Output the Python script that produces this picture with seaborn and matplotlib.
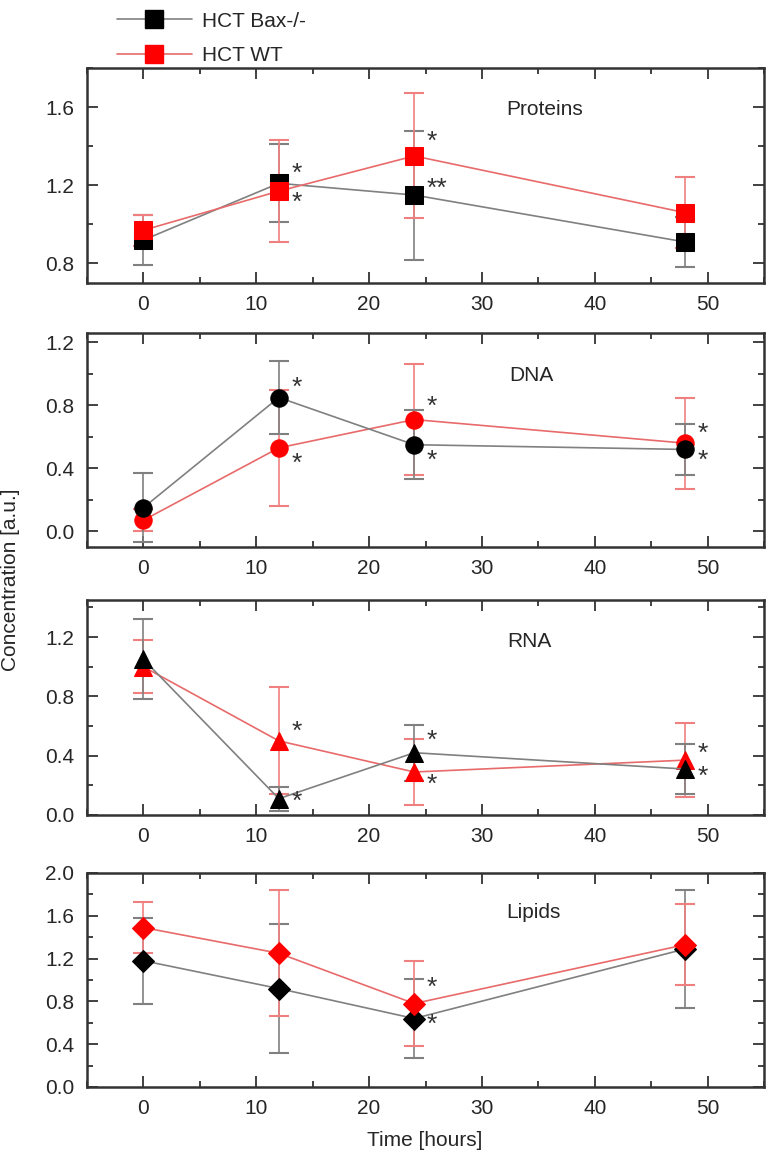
import matplotlib
matplotlib.use("Agg")
import matplotlib.pyplot as plt
from matplotlib.lines import Line2D
from matplotlib.ticker import MultipleLocator, FormatStrFormatter
import seaborn as sns

# time points (hours)
time = [0, 12, 24, 48]

# HCT Bax-/- (black) and HCT WT (red): means and error bars
proteins_ko = [0.92, 1.21, 1.15, 0.91]
proteins_ko_err = [0.13, 0.20, 0.33, 0.13]
proteins_wt = [0.97, 1.17, 1.35, 1.06]
proteins_wt_err = [0.08, 0.26, 0.32, 0.18]

dna_ko = [0.15, 0.85, 0.55, 0.52]
dna_ko_err = [0.22, 0.23, 0.22, 0.16]
dna_wt = [0.07, 0.53, 0.71, 0.56]
dna_wt_err = [0.07, 0.37, 0.35, 0.29]

rna_ko = [1.05, 0.11, 0.42, 0.31]
rna_ko_err = [0.27, 0.08, 0.19, 0.17]
rna_wt = [1.00, 0.50, 0.29, 0.37]
rna_wt_err = [0.18, 0.36, 0.22, 0.25]

lipids_ko = [1.18, 0.92, 0.64, 1.29]
lipids_ko_err = [0.40, 0.60, 0.37, 0.55]
lipids_wt = [1.49, 1.25, 0.78, 1.33]
lipids_wt_err = [0.24, 0.59, 0.40, 0.38]

# significance marks: (time, value, text)
proteins_stars = [(12, 1.26, "*"), (12, 1.11, "*"), (24, 1.42, "*"), (24, 1.18, "**")]
dna_stars = [(12, 0.91, "*"), (12, 0.43, "*"), (24, 0.79, "*"), (24, 0.45, "*"),
             (48, 0.62, "*"), (48, 0.45, "*")]
rna_stars = [(12, 0.56, "*"), (12, 0.09, "*"), (24, 0.50, "*"), (24, 0.20, "*"),
             (48, 0.41, "*"), (48, 0.26, "*")]
lipids_stars = [(24, 0.93, "*"), (24, 0.58, "*")]

panel_names = ["Proteins", "DNA", "RNA", "Lipids"]
series_labels = ["HCT Bax-/-", "HCT WT"]

sns.set_style("ticks")
plt.rcParams["font.family"] = ["Liberation Sans Narrow", "Liberation Sans", "DejaVu Sans"]

W, H = 766, 1160
fig = plt.figure(figsize=(W / 100, H / 100), dpi=100)

# frame pixel boxes (top, bottom)
boxes = [(68, 283), (333, 547), (600, 815), (873, 1087)]
left_px, right_px = 87, 764

panels = [
    (proteins_ko, proteins_ko_err, proteins_wt, proteins_wt_err, proteins_stars, "s", 12.5, (0.7, 1.8), (35.6, 1.59)),
    (dna_ko, dna_ko_err, dna_wt, dna_wt_err, dna_stars, "o", 12.5, (-0.1, 1.26), (34.4, 0.99)),
    (rna_ko, rna_ko_err, rna_wt, rna_wt_err, rna_stars, "^", 13, (0.0, 1.45), (34.2, 1.17)),
    (lipids_ko, lipids_ko_err, lipids_wt, lipids_wt_err, lipids_stars, "D", 11.5, (0.0, 2.0), (34.6, 1.63)),
]

ko_line, ko_mark, ko_err = "#808080", "black", "#808080"
wt_line, wt_mark, wt_err = "#e86a6a", "#ff0000", "#f08080"
ko_on_top = [False, True, True, False]

for i, (ko, ko_e, wt, wt_e, stars, mk, ms, ylim, lab_pos) in enumerate(panels):
    top, bot = boxes[i]
    ax = fig.add_axes([left_px / W, 1 - bot / H, (right_px - left_px) / W, (bot - top) / H])
    zk, zw = (4, 3) if ko_on_top[i] else (3, 4)

    ax.errorbar(time, ko, yerr=ko_e, fmt="none", ecolor=ko_err, elinewidth=1.2,
                capsize=7, capthick=1.5, zorder=zk - 1)
    ax.errorbar(time, wt, yerr=wt_e, fmt="none", ecolor=wt_err, elinewidth=1.2,
                capsize=7, capthick=1.5, zorder=zw - 1)
    sns.lineplot(x=time, y=ko, ax=ax, color=ko_line, linewidth=1.2, marker=mk,
                 markersize=ms, markerfacecolor=ko_mark, markeredgecolor=ko_mark, zorder=zk)
    sns.lineplot(x=time, y=wt, ax=ax, color=wt_line, linewidth=1.2, marker=mk,
                 markersize=ms, markerfacecolor=wt_mark, markeredgecolor=wt_mark, zorder=zw)

    for tx, ty, s in stars:
        ax.text(tx + 1.1, ty, s, fontsize=19, color="#333333", ha="left", va="center", zorder=6)

    ax.text(lab_pos[0], lab_pos[1], panel_names[i], fontsize=15, ha="center", va="center")

    ax.set_xlim(-5, 55)
    ax.set_ylim(*ylim)
    ax.xaxis.set_major_locator(MultipleLocator(10))
    ax.xaxis.set_minor_locator(MultipleLocator(5))
    ax.yaxis.set_major_locator(MultipleLocator(0.4))
    ax.yaxis.set_minor_locator(MultipleLocator(0.2))
    ax.tick_params(which="both", direction="in", top=True, right=True, width=1.3,
                   color="#333333", labelsize=15)
    ax.tick_params(which="major", length=8, pad=9)
    ax.tick_params(which="minor", length=4)
    ax.yaxis.set_major_formatter(FormatStrFormatter("%.1f"))
    for sp in ax.spines.values():
        sp.set_visible(True)
        sp.set_linewidth(1.8)
        sp.set_color("#333333")
    ax.set_xlabel("")
    ax.set_ylabel("")

fig.text(11 / W, 1 - 580 / H, "Concentration [a.u.]", rotation=90, ha="center",
         va="center", fontsize=15)
fig.text(425 / W, 1 - 1140 / H, "Time [hours]", ha="center", va="center", fontsize=15)

handles = [
    Line2D([], [], color=ko_line, linewidth=1.2, marker="s", markersize=12.5,
           markerfacecolor=ko_mark, markeredgecolor=ko_mark),
    Line2D([], [], color=wt_line, linewidth=1.2, marker="s", markersize=12.5,
           markerfacecolor=wt_mark, markeredgecolor=wt_mark),
]
fig.legend(handles, series_labels, loc="upper left", bbox_to_anchor=(98 / W, 1.006),
           frameon=False, fontsize=15, handlelength=3.6, handletextpad=0.5,
           labelspacing=0.75)

fig.savefig("out.png", dpi=100)
